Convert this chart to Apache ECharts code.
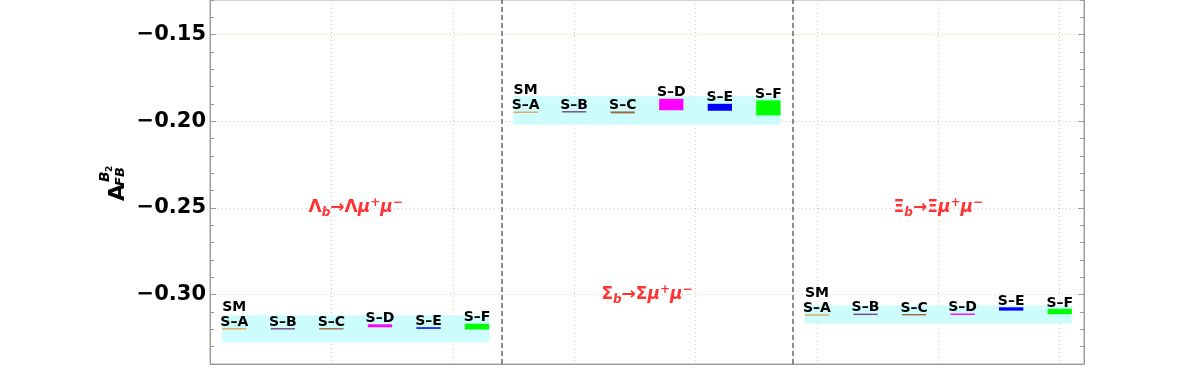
<!DOCTYPE html>
<html>
<head>
<meta charset="utf-8">
<script src="https://cdn.jsdelivr.net/npm/echarts@6/dist/echarts.min.js"></script>
<style>html,body{margin:0;padding:0;background:#fff;}#c{width:1177px;height:392px;}</style>
</head>
<body>
<div id="c"></div>
<script>
// ---------------- data ----------------
const models = ['S–A', 'S–B', 'S–C', 'S–D', 'S–E', 'S–F'];
const yTickValues = [-0.30, -0.25, -0.20, -0.15];

// Λb → Λ μ+ μ−
const lambdaX  = [0.2, 0.6, 1.0, 1.4, 1.8, 2.2];
const lambdaLo = [-0.3199, -0.3199, -0.3199, -0.3188, -0.3197, -0.3201];
const lambdaHi = [-0.3195, -0.3195, -0.3195, -0.3171, -0.3188, -0.3168];
const lambdaSM = [-0.3274, -0.3119];
const lambdaBandX = [0.1, 2.3];

// Σb → Σ μ+ μ−
const sigmaX  = [2.6, 3.0, 3.4, 3.8, 4.2, 4.6];
const sigmaLo = [-0.1949, -0.1946, -0.1954, -0.1936, -0.1939, -0.1966];
const sigmaHi = [-0.1946, -0.1944, -0.1943, -0.1870, -0.1899, -0.1879];
const sigmaSM = [-0.2019, -0.1856];
const sigmaBandX = [2.5, 4.7];

// Ξb → Ξ μ+ μ−
const xiX  = [5.0, 5.4, 5.8, 6.2, 6.6, 7.0];
const xiLo = [-0.3119, -0.3115, -0.3117, -0.3115, -0.3092, -0.3113];
const xiHi = [-0.3116, -0.3112, -0.3114, -0.3111, -0.3073, -0.3082];
const xiSM = [-0.3167, -0.3063];
const xiBandX = [4.9, 7.1];

// process labels (position in data coords)
const processPos = [[1.2, -0.25], [3.6, -0.30], [6.0, -0.25]];
const processText = [
  '{n|Λ}{sub|b}{n|→Λ}{it|μ}{sup|+}{it|μ}{sup|−}',
  '{n|Σ}{sub|b}{n|→Σ}{it|μ}{sup|+}{it|μ}{sup|−}',
  '{n|Ξ}{sub|b}{n|→Ξ}{it|μ}{sup|+}{it|μ}{sup|−}'
];
const separatorsX = [2.4, 4.8];

// ---------------- styles ----------------
const modelColors = ['#e4a45c', '#7d4090', '#a0643c', '#ff00ff', '#0000ff', '#00ff00'];
const bandColor = '#ccfcfc';
const FONT = '"DejaVu Sans", "Noto Sans", sans-serif';
const peach = '#f0c89c', grey = '#c8c8c8';

// build data for library
const panels = [
  [lambdaX, lambdaLo, lambdaHi],
  [sigmaX, sigmaLo, sigmaHi],
  [xiX, xiLo, xiHi]
];
const markData = [];
panels.forEach(function (p) {
  for (let i = 0; i < models.length; i++) {
    markData.push([p[0][i], p[1][i], p[2][i], i]);
  }
});
const bandData = [
  [lambdaBandX[0], lambdaBandX[1], lambdaSM[0], lambdaSM[1]],
  [sigmaBandX[0], sigmaBandX[1], sigmaSM[0], sigmaSM[1]],
  [xiBandX[0], xiBandX[1], xiSM[0], xiSM[1]]
];

// horizontal split line colours (ticks every 0.01 from -0.34)
const hColors = [];
for (let k = 0; k <= 21; k++) {
  const v = Math.round((-0.34 + 0.01 * k) * 100);
  if (v === -30 || v === -15) hColors.push(peach);
  else if (v === -25 || v === -20) hColors.push(grey);
  else hColors.push('rgba(0,0,0,0)');
}

const HALF = 0.1;
const LABEL_FONT = 'bold 14px ' + FONT;

const option = {
  animation: false,
  grid: { left: 210, right: 93, top: 0, bottom: 28, show: true, borderColor: '#aaa', borderWidth: 1, backgroundColor: 'transparent' },
  xAxis: {
    type: 'value', min: 0, max: 7.2, interval: 1,
    axisLine: { show: true, lineStyle: { color: '#999', width: 1 } },
    axisTick: { show: false },
    axisLabel: { show: false },
    splitLine: { show: true, showMinLine: false, showMaxLine: false, lineStyle: { type: [1, 3], width: 1, color: [grey, peach] } }
  },
  yAxis: [
    {
      type: 'value', position: 'left', min: -0.34, max: -0.13, interval: 0.01,
      axisLine: { show: true, lineStyle: { color: '#999', width: 1 } },
      axisTick: { show: true, inside: true, length: 4, lineStyle: { color: '#999' } },
      axisLabel: {
        show: true, margin: 4, color: '#000', fontFamily: FONT, fontWeight: 'bold', fontSize: 21,
        formatter: function (v) {
          const k = Math.round(v * 100);
          if (k % 5 !== 0) return '';
          return (v < 0 ? '−' : '') + Math.abs(v).toFixed(2);
        }
      },
      splitLine: { show: true, lineStyle: { type: [1, 3], width: 1, color: hColors } }
    },
    {
      type: 'value', position: 'left', min: -0.34, max: -0.13,
      axisLine: { show: false },
      axisTick: { show: true, inside: true, length: 6, customValues: yTickValues, lineStyle: { color: '#999' } },
      axisLabel: { show: false },
      splitLine: { show: false }
    },
    {
      type: 'value', position: 'right', min: -0.34, max: -0.13, interval: 0.01,
      axisLine: { show: true, lineStyle: { color: '#999', width: 1 } },
      axisTick: { show: true, inside: true, length: 4, lineStyle: { color: '#999' } },
      axisLabel: { show: false },
      splitLine: { show: false }
    },
    {
      type: 'value', position: 'right', min: -0.34, max: -0.13,
      axisLine: { show: false },
      axisTick: { show: true, inside: true, length: 6, customValues: yTickValues, lineStyle: { color: '#999' } },
      axisLabel: { show: false },
      splitLine: { show: false }
    }
  ],
  series: [
    {
      type: 'custom', name: 'SM band', z: 1,
      data: bandData,
      renderItem: function (params, api) {
        const p1 = api.coord([api.value(0), api.value(3)]);
        const p2 = api.coord([api.value(1), api.value(2)]);
        return { type: 'rect', shape: { x: p1[0], y: p1[1], width: p2[0] - p1[0], height: p2[1] - p1[1] }, style: { fill: bandColor } };
      }
    },
    {
      type: 'custom', name: 'models', z: 3,
      data: markData,
      renderItem: function (params, api) {
        const x = api.value(0), lo = api.value(1), hi = api.value(2), idx = api.value(3);
        const p1 = api.coord([x - HALF, hi]);
        const p2 = api.coord([x + HALF, lo]);
        let h = p2[1] - p1[1];
        let top = p1[1];
        if (h < 1.4) { top = top - (1.4 - h) / 2; h = 1.4; }
        const cx = (p1[0] + p2[0]) / 2;
        const children = [
          { type: 'rect', shape: { x: p1[0], y: top, width: p2[0] - p1[0], height: h }, style: { fill: modelColors[idx] } },
          { type: 'text', x: cx, y: top + 1, style: { text: models[idx], font: LABEL_FONT, fill: '#000', align: 'center', verticalAlign: 'bottom', textAlign: 'center', textVerticalAlign: 'bottom' } }
        ];
        if (idx === 0) {
          children.push({ type: 'text', x: cx, y: top + 1 - 15, style: { text: 'SM', font: LABEL_FONT, fill: '#000', align: 'center', verticalAlign: 'bottom', textAlign: 'center', textVerticalAlign: 'bottom' } });
        }
        return { type: 'group', children: children };
      }
    },
    {
      type: 'scatter', name: 'process', z: 4, symbolSize: 0,
      data: processPos.map(function (p, i) { return { value: p, label: { formatter: processText[i] } }; }),
      label: {
        show: true, position: 'inside', color: '#ff0000',
        rich: {
          n:   { fontFamily: FONT, fontWeight: 'bold', fontSize: 17, color: '#f00', lineHeight: 22 },
          it:  { fontFamily: FONT, fontWeight: 'bold', fontStyle: 'italic', fontSize: 17, color: '#f00', lineHeight: 22 },
          sub: { fontFamily: FONT, fontWeight: 'bold', fontStyle: 'italic', fontSize: 12, color: '#f00', lineHeight: 12, verticalAlign: 'bottom' },
          sup: { fontFamily: FONT, fontWeight: 'bold', fontSize: 12, color: '#f00', lineHeight: 12, verticalAlign: 'top' }
        }
      },
      markLine: {
        silent: true, symbol: 'none', label: { show: false },
        lineStyle: { color: '#666', type: [5, 3], width: 1.5 },
        data: separatorsX.map(function (x) { return { xAxis: x }; })
      }
    }
  ],
  graphic: [{
    type: 'group', x: 117, y: 182, rotation: Math.PI / 2,
    children: [
      { type: 'text', x: -19, y: 1, style: { text: 'A', font: 'bold 22px ' + FONT, fill: '#000', align: 'left', verticalAlign: 'middle', textAlign: 'left', textVerticalAlign: 'middle' } },
      { type: 'text', x: -4, y: 3.5, style: { text: 'FB', font: 'italic bold 13px ' + FONT, fill: '#000', align: 'left', verticalAlign: 'middle', textAlign: 'left', textVerticalAlign: 'middle' } },
      { type: 'text', x: 0, y: -12, style: { text: 'B', font: 'italic bold 14px ' + FONT, fill: '#000', align: 'left', verticalAlign: 'middle', textAlign: 'left', textVerticalAlign: 'middle' } },
      { type: 'text', x: 10, y: -7, style: { text: '2', font: 'bold 9px ' + FONT, fill: '#000', align: 'left', verticalAlign: 'middle', textAlign: 'left', textVerticalAlign: 'middle' } }
    ]
  }]
};

const chart = echarts.init(document.getElementById('c'), null, { renderer: 'canvas' });
chart.setOption(option);
</script>
</body>
</html>
